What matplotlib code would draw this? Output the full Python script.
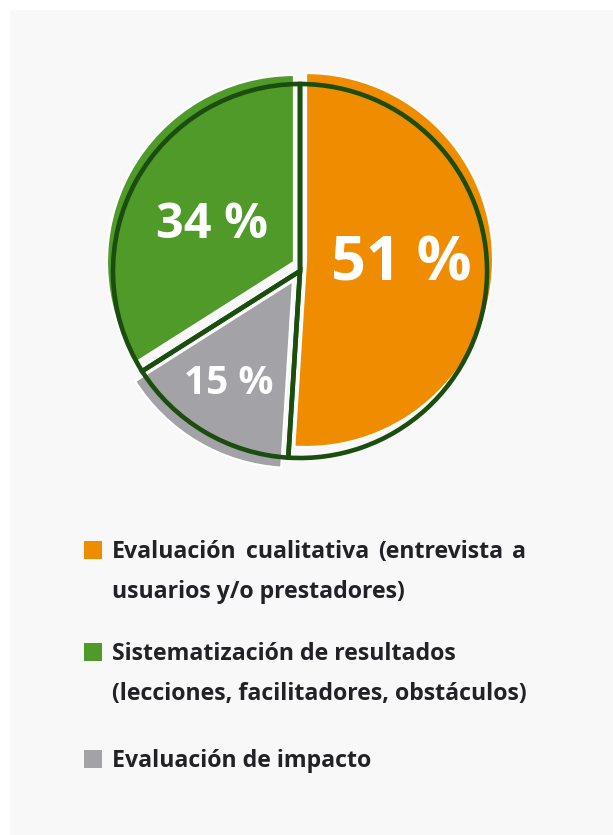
import matplotlib
matplotlib.use("Agg")
import matplotlib.pyplot as plt
from matplotlib.patches import Rectangle

# ---- data ----
categories = ["Evaluación cualitativa (entrevista a usuarios y/o prestadores)",
              "Sistematización de resultados (lecciones, facilitadores, obstáculos)",
              "Evaluación de impacto"]
values = [51, 15, 34]          # pie order: orange, gray, green (clockwise from top)
slice_labels = ["51 %", "15 %", "34 %"]
legend_lines = [
    ["Evaluación cualitativa (entrevista a", "usuarios y/o prestadores)"],
    ["Sistematización de resultados", "(lecciones, facilitadores, obstáculos)"],
    ["Evaluación de impacto"],
]

# ---- style ----
colors = ["#F08C00", "#A3A2A7", "#4F9A29"]
legend_colors = ["#F08C00", "#4F9A29", "#A3A2A7"]
outline = "#1B4D0F"
W, H = 613, 835
FONT = ["Open Sans", "DejaVu Sans"]

fig = plt.figure(figsize=(W / 100, H / 100), dpi=100)
fig.patch.set_facecolor("white")
ax = fig.add_axes([0, 0, 1, 1])

def Y(y):
    return H - y

center = (300, Y(271))
R = 187
explode = [0.035, 0.045, 0.014]
fill_offsets = [(6, -11), (-7, 10), (-6, -9)]   # pixel shift of coloured fill

fills, _ = ax.pie(values, colors=colors, startangle=90, counterclock=False,
                  radius=R, center=center, explode=explode, frame=True,
                  wedgeprops=dict(edgecolor="white", linewidth=1.6))
for w, (dx, dy) in zip(fills, fill_offsets):
    cx, cy = w.center
    w.set_center((cx + dx, cy - dy))
    w.set_zorder(2)

lines, _ = ax.pie(values, startangle=90, counterclock=False, radius=R,
                  center=center, explode=explode, frame=True,
                  wedgeprops=dict(fill=False, edgecolor=outline, linewidth=3.3,
                                  joinstyle="miter"))
for w in lines:
    w.set_zorder(3)

ax.set_xlim(0, W)
ax.set_ylim(0, H)
ax.set_aspect("equal")
ax.axis("off")
ax.add_patch(Rectangle((10, 0), W - 10, H - 10, facecolor="#F8F8F8",
                       edgecolor="none", zorder=0))

label_pos = [(401, 265, 44), (229, 383, 28), (212, 225, 35)]
for lab, (x, y, fs) in zip(slice_labels, label_pos):
    ax.text(x, Y(y), lab, color="white", fontsize=fs, fontweight="bold",
            family=FONT, ha="center", va="center", zorder=5)

# legend
sq = 18
baselines = [[558, 598], [660, 700], [767]]
x_text = 112
FS = 16.7
TXT = "#222226"
fig.canvas.draw()
renderer = fig.canvas.get_renderer()
for i, (lines_txt, ys) in enumerate(zip(legend_lines, baselines)):
    ax.add_patch(Rectangle((84, Y(ys[0]) - 1), sq, sq,
                           facecolor=legend_colors[i], edgecolor="none", zorder=4))
    for j, (t, y) in enumerate(zip(lines_txt, ys)):
        if i == 0 and j == 0:
            # justified first line
            words = t.split(" ")
            arts = [ax.text(0, Y(y), wd, fontsize=FS, fontweight="bold",
                            family=FONT, color=TXT, va="baseline", ha="left")
                    for wd in words]
            widths = [a.get_window_extent(renderer).width for a in arts]
            gap = (526 - x_text - sum(widths)) / (len(words) - 1)
            xx = x_text
            for a, wdt in zip(arts, widths):
                a.set_x(xx)
                xx += wdt + gap
        else:
            ax.text(x_text, Y(y), t, fontsize=FS, fontweight="bold",
                    family=FONT, color=TXT, va="baseline", ha="left")

fig.savefig("out.png", dpi=100, facecolor="white")
